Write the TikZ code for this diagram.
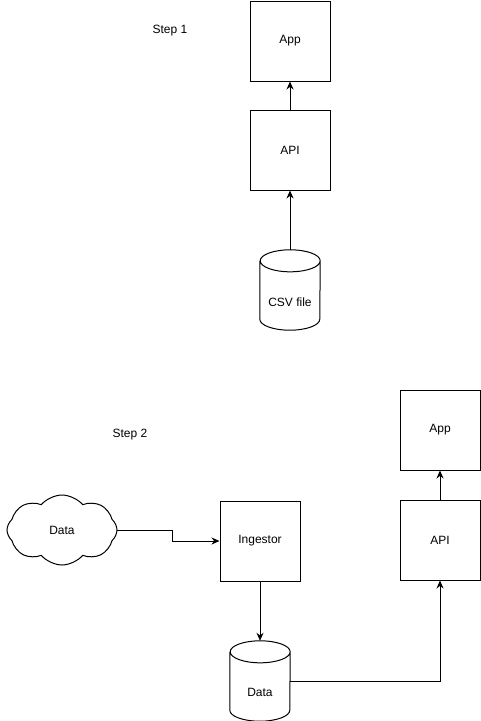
\documentclass[tikz,border=0pt]{standalone}
\usepackage{fontspec}
\setmainfont{Liberation Sans}
\usetikzlibrary{shapes.symbols,arrows.meta}

\newcommand{\dbshape}[1]{%
  \draw[line width=1pt] ([yshift=-11pt]#1.north west) -- ([yshift=11pt]#1.south west)
    arc[start angle=180,end angle=360,x radius=30pt,y radius=11pt]
    -- ([yshift=-11pt]#1.north east)
    arc[start angle=0,end angle=180,x radius=30pt,y radius=11pt]
    arc[start angle=180,end angle=360,x radius=30pt,y radius=11pt];}

\begin{document}
\begin{tikzpicture}[
    x=1pt, y=1pt,
    every node/.style={font=\fontsize{12}{14}\selectfont, align=center},
    box/.style={draw, line width=1pt, minimum width=80pt, minimum height=80pt, inner sep=0pt},
    db/.style={minimum width=60pt, minimum height=80pt, inner sep=0pt, text depth=0pt},
    arr/.style={line width=1pt, -{Stealth[length=8pt,width=7pt]}}
]
    \useasboundingbox (0,0) rectangle (481,-721);

    % step 1
    \node (step1) at (170,-31) {Step 1};
    \node[box] (app1) at (290,-41) {App};
    \node[box] (api1) at (290,-150) {API};
    \node[db] (csv) at (290,-290) {};
    \dbshape{csv}
    \node at (290,-302) {CSV file};

    \draw[arr] (api1) -- (app1);
    \draw[arr] (csv) -- (api1);

    % step 2
    \node (step2) at (130,-435) {Step 2};
    \node[box] (app2) at (440,-430) {App};
    \node[box] (api2) at (440,-540) {API};
    \node[box] (ing) at (260,-541) {Ingestor};
    \node[cloud, draw, line width=1pt, cloud puffs=8, cloud puff arc=100, aspect=1.6,
          minimum width=110pt, minimum height=70pt] (src) at (62,-530) {Data};
    \node[db] (store) at (260,-681) {};
    \dbshape{store}
    \node at (260,-692) {Data};

    \draw[arr] (src.east) -- ++(55,0) |- (ing.west);
    \draw[arr] (ing) -- (store);
    \draw[arr] (store.east) -| (api2.south);
    \draw[arr] (api2) -- (app2);
\end{tikzpicture}
\end{document}
